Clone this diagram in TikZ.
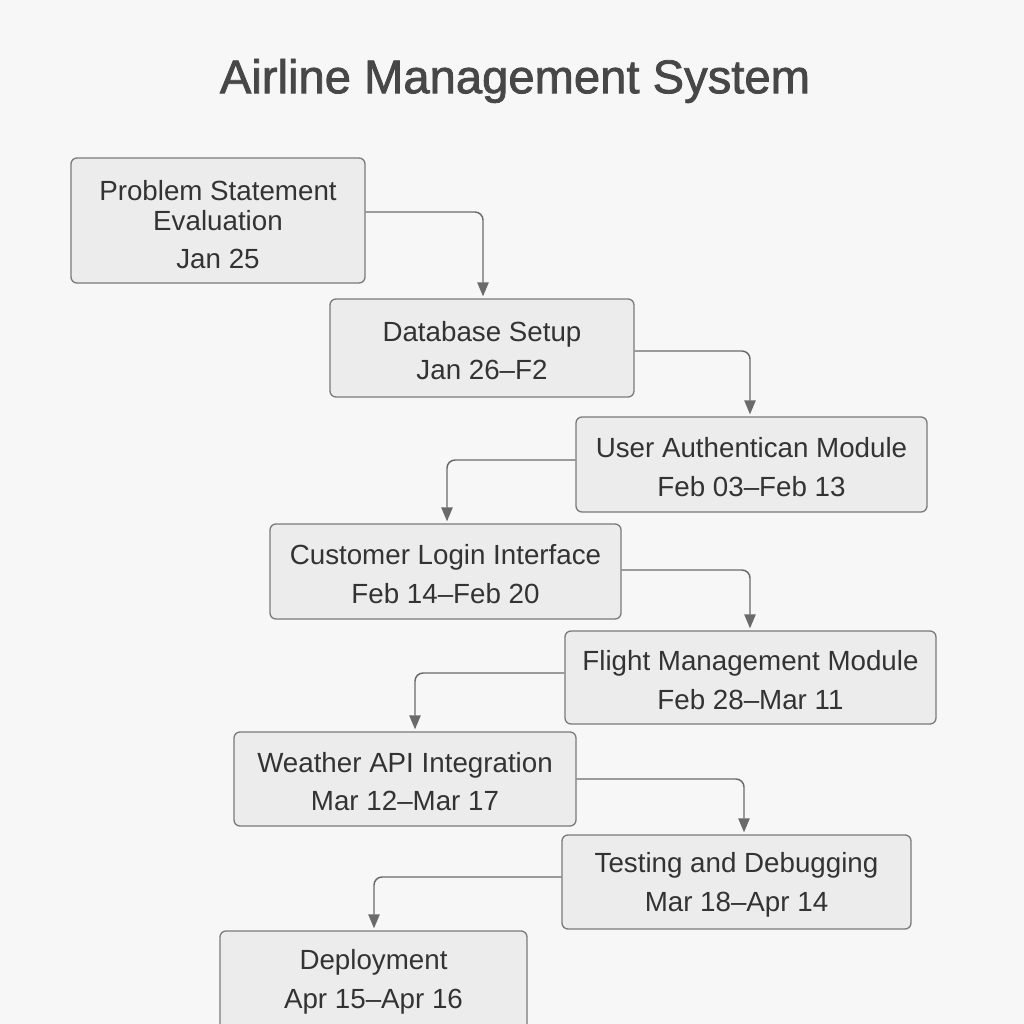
\documentclass[tikz,border=0pt]{standalone}
\usepackage{fontspec}
\setmainfont{Liberation Sans}
\newfontfamily\titlefont{Liberation Sans}[AutoFakeBold=1.6]
\usetikzlibrary{arrows.meta,calc}
\definecolor{bg}{HTML}{F7F7F7}
\definecolor{boxfill}{HTML}{ECECEC}
\definecolor{boxline}{HTML}{7A7A7A}
\definecolor{txt}{HTML}{333333}
\definecolor{titlec}{HTML}{474747}
\definecolor{arr}{HTML}{6A6A6A}
\tikzset{
  box/.style={draw=boxline, line width=1pt, fill=boxfill, rounded corners=4.5pt,
    inner sep=0pt},
  lab/.style={align=center, text=txt, inner sep=0pt,
    font=\fontsize{20.8}{22.5}\selectfont},
  conn/.style={draw=arr, line width=1.1pt, rounded corners=6pt,
    -{Triangle[length=10.5pt,width=8.5pt]}},
  titlestyle/.style={text=titlec, font=\titlefont\fontsize{35.4}{37}\selectfont\bfseries}
}
\begin{document}
\begin{tikzpicture}[x=0.75pt,y=-0.75pt]
\fill[bg] (0,0) rectangle (1024,1024);
\useasboundingbox (0,0) rectangle (1024,1024);
\clip (0,0) rectangle (1024,1024);
\node[titlestyle] (title) at (515,81) {Airline Management System};
\node[box, minimum width=294*0.75pt, minimum height=125*0.75pt] (p1) at (218,220.5) {};
\node[box, minimum width=304*0.75pt, minimum height=98*0.75pt] (p2) at (482,348) {};
\node[box, minimum width=351*0.75pt, minimum height=95*0.75pt] (p3) at (751.5,464.5) {};
\node[box, minimum width=351*0.75pt, minimum height=95*0.75pt] (p4) at (445.5,571.5) {};
\node[box, minimum width=371*0.75pt, minimum height=93*0.75pt] (p5) at (750.5,677.5) {};
\node[box, minimum width=342*0.75pt, minimum height=94*0.75pt] (p6) at (405,779) {};
\node[box, minimum width=349*0.75pt, minimum height=94*0.75pt] (p7) at (736.5,882) {};
\node[box, minimum width=307*0.75pt, minimum height=99*0.75pt] (p8) at (373.5,980.5) {};
\node[lab] (t1) at ($(p1)+(0,4)$) {Problem Statement\\Evaluation\\[6.5pt]Jan 25};
\node[lab] (t2) at ($(p2)+(0,2.5)$) {Database Setup\\[6.5pt]Jan 26–F2};
\node[lab] (t3) at ($(p3)+(0,2.5)$) {User Authentican Module\\[6.5pt]Feb 03–Feb 13};
\node[lab] (t4) at ($(p4)+(0,2.5)$) {Customer Login Interface\\[6.5pt]Feb 14–Feb 20};
\node[lab] (t5) at ($(p5)+(0,2.5)$) {Flight Management Module\\[6.5pt]Feb 28–Mar 11};
\node[lab] (t6) at ($(p6)+(0,2.5)$) {Weather API Integration\\[6.5pt]Mar 12–Mar 17};
\node[lab] (t7) at ($(p7)+(0,2.5)$) {Testing and Debugging\\[6.5pt]Mar 18–Apr 14};
\node[lab] (t8) at ($(p8)+(0,1.5)$) {Deployment\\[6.5pt]Apr 15–Apr 16};
\draw[conn] ($(p1.east)+(0,-8.5)$) -| ($(p2.north)+(1,-2)$);
\draw[conn] ($(p2.east)+(0,3)$) -| ($(p3.north)+(-1.5,-2)$);
\draw[conn] ($(p3.west)+(0,-4.5)$) -| ($(p4.north)+(1.5,-2)$);
\draw[conn] ($(p4.east)+(0,-1.5)$) -| ($(p5.north)+(-0.5,-2)$);
\draw[conn] ($(p5.west)+(0,-4.5)$) -| ($(p6.north)+(10,-2)$);
\draw[conn] ($(p6.east)+(0,0)$) -| ($(p7.north)+(7.5,-2)$);
\draw[conn] ($(p7.west)+(0,-5)$) -| ($(p8.north)+(0.5,-2)$);
\end{tikzpicture}
\end{document}
